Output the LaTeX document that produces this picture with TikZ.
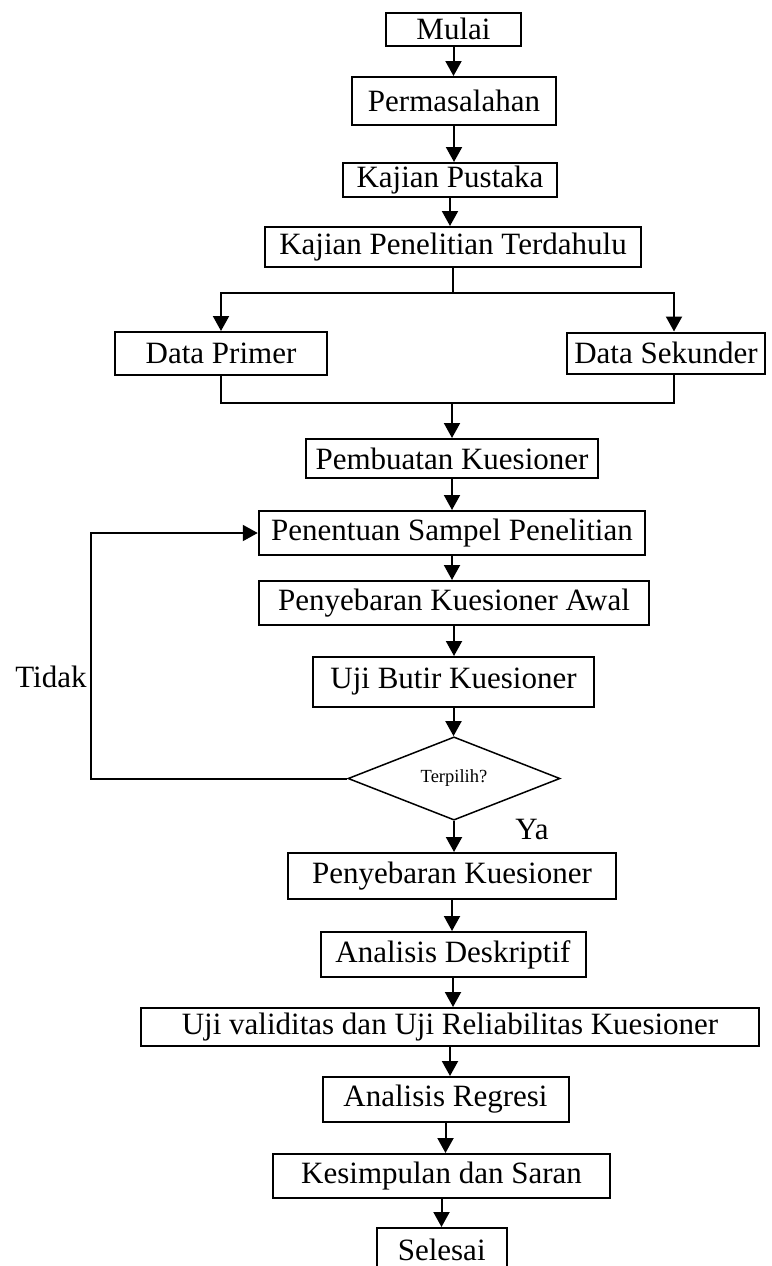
\documentclass[tikz,border=0pt]{standalone}
\usepackage{fontspec}
\setmainfont{Liberation Serif}
\usetikzlibrary{arrows.meta,shapes.geometric,calc}
\begin{document}
\begin{tikzpicture}[x=1pt,y=-1pt,
  box/.style={draw,line width=2pt,inner sep=0pt,anchor=center,font=\fontsize{31}{36}\selectfont},
  conn/.style={line width=2pt},
  arr/.style={line width=2pt,-{Triangle[width=16pt,length=15pt]}},
  lbl/.style={inner sep=0pt,font=\fontsize{31}{36}\selectfont}]
\clip (0,0) rectangle (771,1266);
\fill[white] (0,0) rectangle (771,1266);
% nodes
\node[box,minimum width=135,minimum height=33.5] (mulai) at (453.5,29.25) {Mulai};
\node[box,minimum width=204,minimum height=48] (perm) at (454,101) {Permasalahan};
\node[box,minimum width=214,minimum height=34] (kp) at (450,180) {Kajian Pustaka};
\node[box,minimum width=376,minimum height=40] (kpt) at (453,247) {Kajian Penelitian Terdahulu};
\node[box,minimum width=212,minimum height=43] (dp) at (221,353.5) {Data Primer};
\node[box,minimum width=198,minimum height=41.5] (ds) at (666,353.25) {Data Sekunder};
\node[box,minimum width=292,minimum height=39] (pk) at (452,458.5) {Pembuatan Kuesioner};
\node[box,minimum width=386.5,minimum height=44] (psp) at (452,533) {Penentuan Sampel Penelitian};
\node[box,minimum width=390,minimum height=44] (pka) at (454,603) {Penyebaran Kuesioner Awal};
\node[box,minimum width=281,minimum height=50] (ubk) at (453.5,682) {Uji Butir Kuesioner};
\node[draw,shape=diamond,line width=1.5pt,inner sep=0pt,minimum width=212,minimum height=80,
  font=\fontsize{18.5}{22}\selectfont] (dia) at (454,778.5) {Terpilih?};
\node[box,minimum width=328.5,minimum height=46] (pk2) at (452,876) {Penyebaran Kuesioner};
\node[box,minimum width=265,minimum height=45] (ad) at (453,954.5) {Analisis Deskriptif};
\node[box,minimum width=618,minimum height=38] (uv) at (450,1027) {Uji validitas dan Uji Reliabilitas Kuesioner};
\node[box,minimum width=246,minimum height=45] (ar) at (445.5,1099.5) {Analisis Regresi};
\node[box,minimum width=337,minimum height=44] (kds) at (441.5,1176) {Kesimpulan dan Saran};
\node[box,minimum width=130,minimum height=44] (sel) at (441.7,1250) {Selesai};
\node[lbl] (tidak) at (51,677) {Tidak};
\node[lbl] (ya) at (532,829) {Ya};
% connectors
\draw[arr] (mulai.south) -- (mulai.south |- perm.north);
\draw[arr] (perm.south) -- (perm.south |- kp.north);
\draw[arr] (kp.south) -- (kp.south |- kpt.north);
\coordinate (dsin) at ([xshift=8pt]ds.north);
\coordinate (dsout) at ([xshift=8pt]ds.south);
\draw[conn] (kpt.south) -- ++(0,25) coordinate (b1);
\draw[arr] (b1) -| (dp.north);
\draw[arr] (b1) -| (dsin);
\draw[conn] (dp.south) -- ++(0,27) coordinate (m1) -- (m1 -| dsout) -- (dsout);
\draw[arr] (m1 -| pk.north) -- (pk.north);
\draw[arr] (pk.south) -- (pk.south |- psp.north);
\draw[arr] (psp.south) -- (psp.south |- pka.north);
\draw[arr] (pka.south) -- (pka.south |- ubk.north);
\draw[arr] (ubk.south) -- (ubk.south |- dia.north);
\draw[arr] (dia.west) -- ++(-256,0) |- (psp.west);
\draw[arr] (dia.south) -- (dia.south |- pk2.north);
\draw[arr] (pk2.south) -- (pk2.south |- ad.north);
\draw[arr] (ad.south) -- (ad.south |- uv.north);
\draw[arr] (uv.south) -- (uv.south |- ar.north);
\draw[arr] (ar.south) -- (ar.south |- kds.north);
\draw[arr] (kds.south) -- (kds.south |- sel.north);
\end{tikzpicture}
\end{document}
